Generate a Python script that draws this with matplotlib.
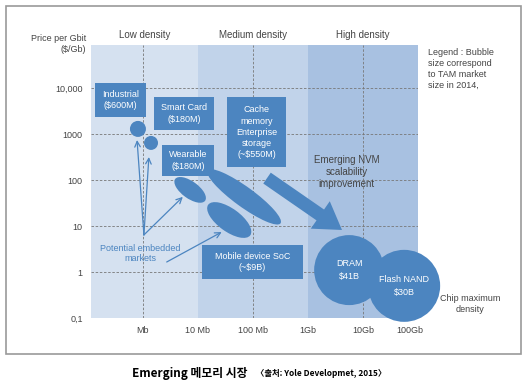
import numpy as np
import matplotlib.pyplot as plt
from matplotlib.patches import Ellipse, Rectangle, FancyArrowPatch
from matplotlib.transforms import ScaledTranslation

plt.rcParams['font.family'] = ['Liberation Sans', 'DejaVu Sans']

# axes
density_ticks = [1e6, 1e7, 1e8, 1e9, 1e10, 1e11]
density_labels = ['Mb', '10 Mb', '100 Mb', '1Gb', '10Gb', '100Gb']
price_ticks = [0.1, 1, 10, 100, 1000, 10000]
price_labels = ['0,1', '1', '10', '100', '1000', '10,000']
band_edges = [10**5.055, 1e7, 1e9, 1e11]
band_names = ['Low density', 'Medium density', 'High density']

# round bubbles (market size in $B)
bubble_labels = ['', '', 'DRAM\n$41B', 'Flash NAND\n$30B']
bubble_density = [8.1e5, 1.4e6, 5.6e9, 5.6e10]
bubble_price = [1290, 640, 1.1, 0.5]
bubble_market = [0.6, 0.18, 41, 30]

# elongated bubbles
ell_density = [7.2e6, 3.7e7, 6.9e7]
ell_price = [61, 13.5, 43]

# label boxes
box_labels = ['Industrial\n($600M)', 'Smart Card\n($180M)',
              'Cache\nmemory\nEnterprise\nstorage\n(~$550M)',
              'Wearable\n($180M)', 'Mobile device SoC\n(~$9B)']
box_density = [3.9e5, 5.6e6, 1.16e8, 6.6e6, 9.8e7]
box_price = [5480, 2790, 1100, 265, 1.65]

# potential embedded markets arrows
arrow_from = [(1.04e6, 6.4), (1.04e6, 6.4), (1.04e6, 6.4), (2.7e6, 1.65)]
arrow_to = [(7.8e5, 740), (1.28e6, 316), (5.3e6, 43), (2.7e7, 7.4)]
nvm_from = (1.8e8, 110)
nvm_to = (4.15e9, 8.2)

blue = '#4c85c0'
band_colors = ['#d5e1f0', '#c1d3ea', '#a8c1e1']
grey_text = '#444444'

fig = plt.figure(figsize=(5.31, 3.90), dpi=100)
ax = fig.add_axes([91/531, 1-318/390, 327/531, 273/390])
ax.set_xscale('log')
ax.set_yscale('log')
ax.set_xlim(band_edges[0], band_edges[-1])
ax.set_ylim(0.1, 10**4.935)

for i in range(3):
    ax.axvspan(band_edges[i], band_edges[i+1], color=band_colors[i], lw=0, zorder=0)
    xc = np.sqrt(band_edges[i] * band_edges[i+1])
    ax.text(xc, 1.037, band_names[i], transform=ax.get_xaxis_transform(),
            ha='center', va='center', fontsize=7, color=grey_text)

for x in [1e6, 1e8, 1e10]:
    ax.axvline(x, color='#777777', lw=0.6, ls=(0, (3, 2)), zorder=1)
for y in [1, 10, 100, 1000, 10000]:
    ax.axhline(y, color='#777777', lw=0.6, ls=(0, (3, 2)), zorder=1)

ax.set_xticks(density_ticks)
ax.set_xticklabels(density_labels)
ax.set_yticks(price_ticks)
ax.set_yticklabels(price_labels)
ax.minorticks_off()
ax.tick_params(length=0, labelsize=6.5, labelcolor=grey_text)
ax.tick_params(axis='x', pad=6)
ax.tick_params(axis='y', pad=6)
for s in ax.spines.values():
    s.set_visible(False)
last = ax.get_xticklabels()[-1]
last.set_transform(last.get_transform() + ScaledTranslation(-0.08, 0, fig.dpi_scale_trans))

def px_at(x, y):
    return fig.dpi_scale_trans + ScaledTranslation(x, y, ax.transData)

# round bubbles
bubble_r = [8, 7, 35, 36]
for lab, x, y, r in zip(bubble_labels, bubble_density, bubble_price, bubble_r):
    ax.add_patch(Ellipse((0, 0), 2*r/100, 2*r/100, color=blue, lw=0,
                         transform=px_at(x, y), zorder=4, clip_on=False))
    if lab:
        ax.text(x, y, lab, ha='center', va='center', fontsize=6.5,
                color='white', zorder=5, linespacing=1.5, clip_on=False)

# elongated bubbles
ell_size = [(37, 17), (52, 23), (90, 20)]
for x, y, (w, h) in zip(ell_density, ell_price, ell_size):
    ax.add_patch(Ellipse((0, 0), w/100, h/100, angle=-36, color=blue, lw=0,
                         transform=px_at(x, y), zorder=3))

# label boxes
box_size = [(51, 34), (60, 33), (59, 70), (52, 31), (101, 34)]
for lab, x, y, (w, h) in zip(box_labels, box_density, box_price, box_size):
    ax.add_patch(Rectangle((-w/200, -h/200), w/100, h/100, color=blue, lw=0,
                           transform=px_at(x, y), zorder=3))
    ax.text(x, y, lab, ha='center', va='center', fontsize=6.5,
            color='white', zorder=5, linespacing=1.3)

# thin arrows
for a, b in zip(arrow_from, arrow_to):
    ax.annotate('', xy=b, xytext=a,
                arrowprops=dict(arrowstyle='->', color=blue, lw=0.9,
                                shrinkA=0, shrinkB=0), zorder=4)
ax.text(8.8e5, 2.5, 'Potential embedded\nmarkets', ha='center', va='center',
        fontsize=6.5, color=blue, linespacing=1.2, zorder=5)

# NVM arrow
ax.add_patch(FancyArrowPatch(nvm_from, nvm_to,
                             arrowstyle='simple,head_length=1.9,head_width=2.4,tail_width=0.95',
                             mutation_scale=10, color=blue, lw=0,
                             shrinkA=0, shrinkB=0, zorder=3))
ax.text(5.1e9, 149, 'Emerging NVM\nscalability\nimprovement', ha='center',
        va='center', fontsize=7, color=grey_text, linespacing=1.25)

# side texts
fig.text(86/531, 1-44/390, 'Price per Gbit\n($/Gb)', ha='right', va='center',
         fontsize=6.5, color=grey_text, linespacing=1.3)
fig.text(428/531, 1-48/390, 'Legend : Bubble\nsize correspond\nto TAM market\nsize in 2014,',
         ha='left', va='top', fontsize=6.5, color=grey_text, linespacing=1.3)
fig.text(470/531, 1-304/390, 'Chip maximum\ndensity', ha='center', va='center',
         fontsize=6.5, color=grey_text, linespacing=1.3)

# frame and caption
fig.add_artist(Rectangle((6/531, 1-354/390), 515/531, 348/390,
                         transform=fig.transFigure, fill=False,
                         ec='#9a9a9a', lw=1.2))
fig.text(132/531, 1-373/390, 'Emerging 메모리 시장', ha='left', va='center',
         fontsize=8.5, fontweight='bold',
         family=['Noto Sans CJK KR', 'DejaVu Sans'])
fig.text(256/531, 1-373/390, '〈출처: Yole Developmet, 2015〉', ha='left',
         va='center', fontsize=6, fontweight='bold',
         family=['Noto Sans CJK KR', 'DejaVu Sans'])

fig.savefig('out.png', dpi=100)
